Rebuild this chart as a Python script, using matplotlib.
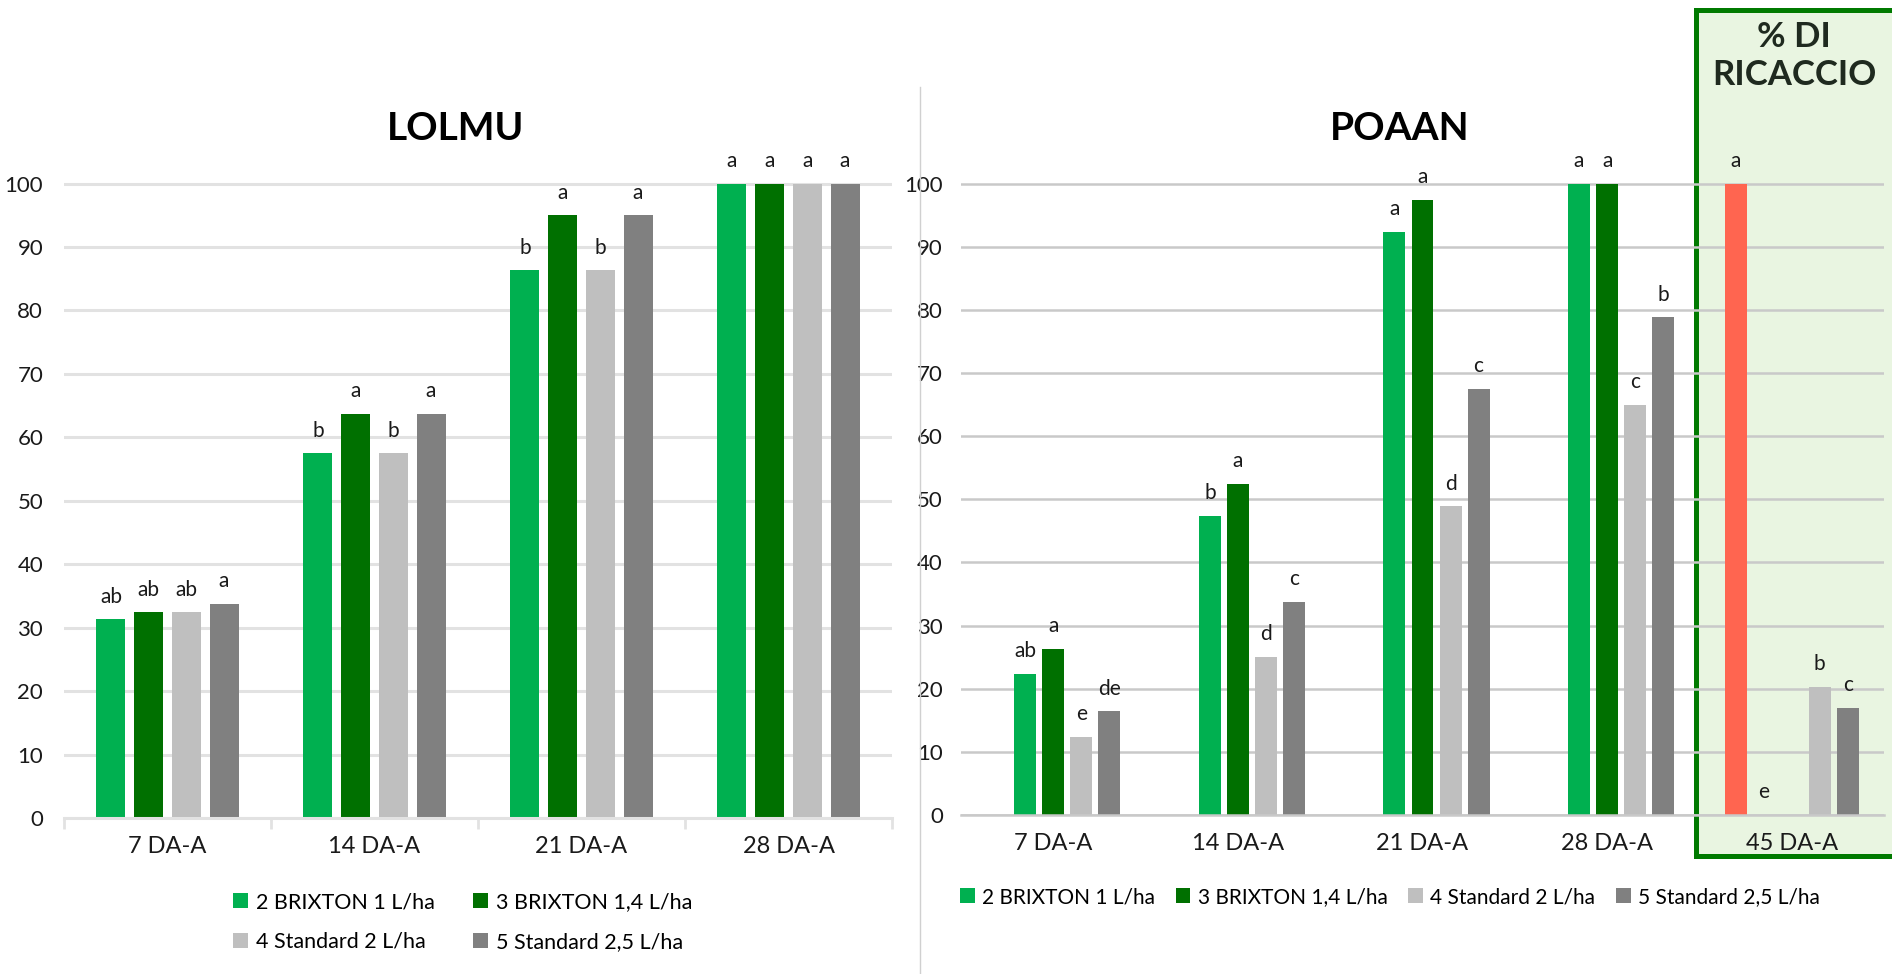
import matplotlib
matplotlib.use('Agg')
import matplotlib.pyplot as plt
import numpy as np
from matplotlib.patches import Patch, Rectangle
from matplotlib.lines import Line2D

plt.rcParams['font.family'] = ['Lato', 'DejaVu Sans']

# ---- data ----
series_names = ['2 BRIXTON 1 L/ha', '3 BRIXTON 1,4 L/ha', '4 Standard 2 L/ha', '5 Standard 2,5 L/ha']
series_colors = ['#00B050', '#007000', '#BFBFBF', '#808080']

lol_categories = ['7 DA-A', '14 DA-A', '21 DA-A', '28 DA-A']
lol_values = [
    [31.3, 57.5, 86.3, 100],
    [32.4, 63.7, 95.0, 100],
    [32.4, 57.5, 86.3, 100],
    [33.8, 63.7, 95.0, 100],
]
lol_letters = [
    ['ab', 'b', 'b', 'a'],
    ['ab', 'a', 'a', 'a'],
    ['ab', 'b', 'b', 'a'],
    ['a', 'a', 'a', 'a'],
]

poa_categories = ['7 DA-A', '14 DA-A', '21 DA-A', '28 DA-A', '45 DA-A']
regrowth_values = [0, 0, 0, 0, 100]      # red bar, only at 45 DA-A
regrowth_letters = ['', '', '', '', 'a']
regrowth_color = '#FF6550'
poa_values = [
    [22.4, 47.4, 92.4, 100, 0],
    [26.3, 52.4, 97.4, 100, 0],
    [12.4, 25.0, 48.9, 65.0, 20.3],
    [16.4, 33.8, 67.5, 78.8, 17.0],
]
poa_letters = [
    ['ab', 'b', 'a', 'a', 'e'],
    ['a', 'a', 'a', 'a', ''],
    ['e', 'd', 'd', 'c', 'b'],
    ['de', 'c', 'c', 'b', 'c'],
]

W, H = 1892, 974
fig = plt.figure(figsize=(W / 100, H / 100), dpi=100)


def fx(px):
    return px / W


def fy(px):
    return 1 - px / H


def bars_with_letters(ax, x, vals, lets, color, width):
    ax.bar(x, vals, width=width, color=color, edgecolor='none', zorder=2)
    for xi, v, l in zip(x, vals, lets):
        if l:
            ax.annotate(l, (xi, v), xytext=(0, 12), textcoords='offset points',
                        ha='center', va='baseline', fontsize=15, color='#1a1a1a',
                        annotation_clip=False)


def style_axes(ax, ncat, grid_color, grid_lw):
    ax.set_xlim(-0.5, ncat - 0.5)
    ax.set_ylim(0, 100.4)
    ax.set_yticks(np.arange(0, 101, 10))
    ax.yaxis.grid(True, color=grid_color, lw=grid_lw, zorder=0)
    ax.set_axisbelow(True)
    for s in ['top', 'right', 'left']:
        ax.spines[s].set_visible(False)
    ax.spines['bottom'].set_color(grid_color)
    ax.spines['bottom'].set_linewidth(grid_lw)
    ax.tick_params(axis='y', length=0, labelsize=16, colors='#1a1a1a')
    ax.tick_params(axis='x', which='major', length=0, labelsize=17, pad=13, colors='#1a1a1a')


# ---- LOLMU ----
ax1 = fig.add_axes([fx(64), fy(818), fx(892) - fx(64), fy(181) - fy(818)])
x = np.arange(len(lol_categories))
slot, bw = 0.182, 0.14
for i in range(4):
    bars_with_letters(ax1, x + (i - 1.5) * slot, lol_values[i], lol_letters[i], series_colors[i], bw)
style_axes(ax1, len(lol_categories), '#E2E2E2', 2.2)
ax1.set_xticks(x)
ax1.set_xticklabels(lol_categories)
ax1.set_xticks(np.arange(len(lol_categories) + 1) - 0.5, minor=True)
ax1.tick_params(axis='x', which='minor', length=8, width=2, color='#E2E2E2', direction='out')
ax1.tick_params(axis='y', pad=15)

fig.text(fx(456), fy(129), 'LOLMU', ha='center', va='center', fontsize=28, fontweight='bold')

# legend rows: (2, 3) then (4, 5) -> matplotlib fills by column
order = [0, 2, 1, 3]
fig.legend([Patch(facecolor=series_colors[i]) for i in order], [series_names[i] for i in order],
           ncol=2, loc='center left', bbox_to_anchor=(fx(233), fy(922)), frameon=False,
           fontsize=15.5, handlelength=0.7, handleheight=0.7, handletextpad=0.35,
           columnspacing=1.8, labelspacing=0.9, borderpad=0, borderaxespad=0)

# ---- POAAN ----
box = Rectangle((fx(1696), fy(856)), fx(W + 30) - fx(1696), fy(10) - fy(856),
                transform=fig.transFigure, facecolor='#E9F5E1', edgecolor='#007A00',
                lw=3.6, zorder=-1)
fig.add_artist(box)

ax2 = fig.add_axes([fx(961), fy(815), fx(1884) - fx(961), fy(181) - fy(815)])
ax2.set_facecolor('none')
x = np.arange(len(poa_categories))
slot, bw = 0.152, 0.119
bars_with_letters(ax2, x - 2 * slot, regrowth_values, regrowth_letters, regrowth_color, bw)
for i in range(4):
    bars_with_letters(ax2, x + (i - 1) * slot, poa_values[i], poa_letters[i], series_colors[i], bw)
style_axes(ax2, len(poa_categories), '#C9C9C9', 1.8)
ax2.set_xticks(x)
ax2.set_xticklabels(poa_categories)
ax2.tick_params(axis='y', pad=13)

fig.text(fx(1400), fy(129), 'POAAN', ha='center', va='center', fontsize=28, fontweight='bold')
fig.text(fx(1794), fy(56), '% DI\nRICACCIO', ha='center', va='center', fontsize=25,
         fontweight='bold', linespacing=1.2, color='#1F2A1F')

fig.legend([Patch(facecolor=c) for c in series_colors], series_names, ncol=4,
           loc='center left', bbox_to_anchor=(fx(960), fy(897)), frameon=False,
           fontsize=15, handlelength=0.7, handleheight=0.7, handletextpad=0.35,
           columnspacing=1.0, borderpad=0, borderaxespad=0)

# vertical separator between the two charts
fig.add_artist(Line2D([fx(920), fx(920)], [0, fy(87)], transform=fig.transFigure,
                      color='#D0D0D0', lw=1))

fig.savefig('out.png', dpi=100)
